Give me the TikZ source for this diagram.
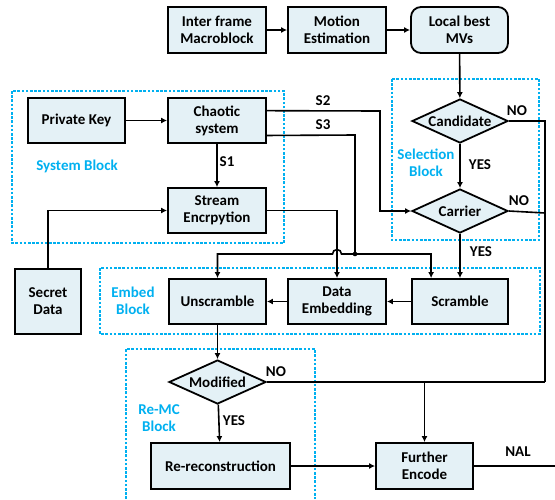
\documentclass[tikz,border=0pt]{standalone}
\usepackage{fontspec}
\setmainfont{Carlito}
\usetikzlibrary{arrows.meta,shapes.geometric,calc}
\definecolor{boxfill}{RGB}{228,241,246}
\definecolor{blk}{RGB}{0,176,240}
\tikzset{
  box/.style={draw, fill=boxfill, line width=1.8pt, minimum width=98pt, minimum height=46pt,
    align=center, inner sep=1pt, font=\fontsize{15}{17}\selectfont\bfseries},
  dia/.style={draw, fill=boxfill, line width=1.8pt, shape=diamond, aspect=2.2, inner sep=0pt,
    minimum width=96pt, minimum height=44pt, font=\fontsize{15}{17}\selectfont\bfseries},
  lab/.style={font=\fontsize{15}{17}\selectfont\bfseries, inner sep=0pt},
  blab/.style={font=\fontsize{15}{17}\selectfont\bfseries, text=blk, align=center, inner sep=0pt},
  group/.style={draw=blk, line width=1.8pt, dash pattern=on 2.6pt off 1.6pt},
  conn/.style={line width=1.6pt},
  arr/.style={conn, -{Latex[length=6pt,width=6pt]}},
}
\begin{document}
\begin{tikzpicture}[x=1pt,y=-1pt]
\useasboundingbox (0,0) rectangle (555,499);
% group boxes
\draw[group] (12,91) rectangle (284,243);
\draw[group] (392,79) rectangle (539,240);
\draw[group] (100,268) rectangle (540,334);
\draw[group] (126,499) -- (126,349) -- (315,349) -- (315,499);
\node[blab] (lsys) at (77,166) {System Block};
\node[blab] (lsel) at (426,163) {Selection\\Block};
\node[blab] (lemb) at (133,301) {Embed\\Block};
\node[blab] (lremc) at (159,418) {Re-MC\\Block};
% nodes
\node[box] (inter) at (217,30) {Inter frame\\Macroblock};
\node[box] (motion) at (337,30) {Motion\\Estimation};
\node[box, rounded corners=10pt, minimum width=97pt] (local) at (459.5,30) {Local best\\MVs};
\node[box, minimum width=97pt, minimum height=45pt] (priv) at (76.5,120.5) {Private Key};
\node[box, minimum height=45pt] (chaos) at (217,120.5) {Chaotic\\system};
\node[box, minimum height=45pt] (stream) at (217,210.5) {Stream\\Encrpytion};
\node[dia] (cand) at (460,121) {Candidate};
\node[dia] (carr) at (460,211) {Carrier};
\node[box, minimum width=96pt, minimum height=45pt] (scr) at (460,301.5) {Scramble};
\node[box, minimum height=45pt] (demb) at (337,301.5) {Data\\Embedding};
\node[box, minimum width=97pt, minimum height=45pt] (unscr) at (217.5,301.5) {Unscramble};
\node[box, minimum width=66pt, minimum height=65pt] (secret) at (48,301.5) {Secret\\Data};
\node[dia, minimum width=97pt] (mod) at (217.5,382) {Modified};
\node[box, minimum width=139pt] (rerec) at (220.5,466) {Re-reconstruction};
\node[box, minimum width=97pt] (further) at (424.5,466) {Further\\Encode};
% coordinates
\coordinate (s2) at ($(chaos.north east)!0.29!(chaos.south east)$);
\coordinate (s3) at ($(chaos.north east)!0.82!(chaos.south east)$);
\coordinate (junc) at (355,254);
\coordinate (scrin) at ($(scr.north west)+(20,0)$);
\coordinate (noright) at (545,382);
\coordinate (nal) at (555,466);
% connectors
\draw[arr] (inter) -- (motion);
\draw[arr] (motion) -- (local);
\draw[arr] (local) -- (cand);
\draw[arr] (cand) -- (carr);
\draw[arr] (carr) -- (scr);
\draw[arr] (priv) -- (chaos);
\draw[arr] (chaos) -- (stream);
\draw[arr] (s2) -- (380,111) |- (carr.west);
\draw[conn] (s3) -- (355,135) -- (junc);
\draw[arr] (stream.east) -| (demb.north);
\draw[arr] (junc) -- (341.5,254) arc (0:180:4.5pt) -- (unscr.north |- junc) -- (unscr.north);
\draw[arr] (junc) -| (scrin);
\fill (junc) circle (2.3pt);
\draw[arr] (secret.north) |- (stream.west);
\draw[arr] (scr) -- (demb);
\draw[arr] (demb) -- (unscr);
\draw[arr] (unscr) -- (mod);
\draw[arr] (mod) -- (rerec);
\draw[arr] (rerec) -- (further);
\draw[conn] (mod.east) -- (noright);
\draw[conn] (cand.east) -- (545,121) -- (noright);
\draw[conn] (carr.east) -- (545,213);
\draw[arr] (further.north |- noright) -- (further.north);
\draw[conn] (further.east) -- (nal);
% labels
\node[lab] at (227,162) {S1};
\node[lab] at (323,101) {S2};
\node[lab] at (323,125) {S3};
\node[lab] at (480,165) {YES};
\node[lab] at (481,252) {YES};
\node[lab] at (517,111) {NO};
\node[lab] at (519,201) {NO};
\node[lab] at (276,372) {NO};
\node[lab] at (234,421) {YES};
\node[lab] at (518,452) {NAL};
\end{tikzpicture}
\end{document}
